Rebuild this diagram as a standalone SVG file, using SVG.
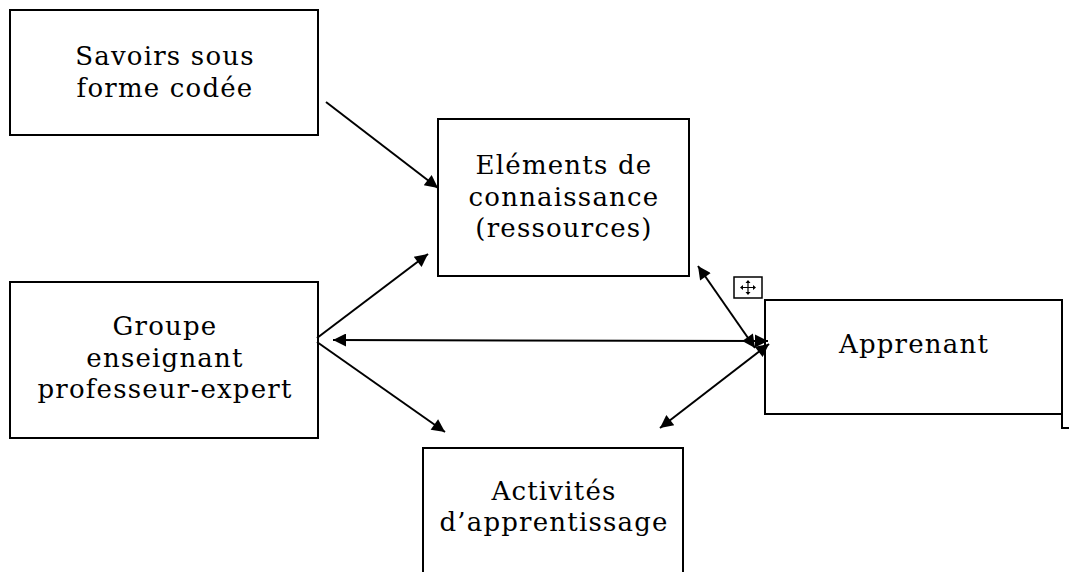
<svg xmlns="http://www.w3.org/2000/svg" width="1069" height="572" viewBox="0 0 1069 572">
<style>
.box{fill:#fff;stroke:#000;stroke-width:2}
.t{font-family:"DejaVu Serif","Liberation Serif",serif;font-size:26px;letter-spacing:1.2px;fill:#000;text-anchor:middle}
.c{stroke:#000;stroke-width:2;fill:none}
</style>
<defs>
<marker id="ah" viewBox="0 0 10 10" refX="10" refY="5" markerWidth="8.5" markerHeight="6.5" markerUnits="strokeWidth" orient="auto-start-reverse">
<path d="M0,0 L10,5 L0,10 z" fill="#000"/>
</marker>
</defs>
<rect width="1069" height="572" fill="#fff"/>
<g id="savoirs">
<rect class="box" x="10" y="10" width="308" height="125"/>
<text class="t" x="165" y="65">Savoirs sous</text>
<text class="t" x="165" y="97">forme codée</text>
</g>
<g id="elements">
<rect class="box" x="438" y="119" width="251" height="157"/>
<text class="t" x="564" y="174">Eléments de</text>
<text class="t" x="564" y="206">connaissance</text>
<text class="t" x="564" y="237">(ressources)</text>
</g>
<g id="groupe">
<rect class="box" x="10" y="282" width="308" height="156"/>
<text class="t" x="165" y="335">Groupe</text>
<text class="t" x="165" y="367">enseignant</text>
<text class="t" x="165" y="398">professeur-expert</text>
</g>
<g id="apprenant">
<rect class="box" x="765" y="300" width="297" height="114"/>
<text class="t" x="914" y="353">Apprenant</text>
<path class="c" d="M1062,414 V428 H1069"/>
</g>
<g id="activites">
<rect class="box" x="423" y="448" width="260" height="130"/>
<text class="t" x="554" y="500">Activités</text>
<text class="t" x="554" y="531">d’apprentissage</text>
</g>
<g id="move-icon">
<rect x="734" y="277" width="28" height="21" fill="#fff" stroke="#000" stroke-width="1.5"/>
<path d="M741,287.5 H755 M748,281 V294" stroke="#000" stroke-width="1.2"/>
<path d="M740,287.5 l3,-2.5 v5 z M756,287.5 l-3,-2.5 v5 z M748,280 l-2.5,3 h5 z M748,295 l-2.5,-3 h5 z" fill="#000"/>
</g>
<g id="connectors">
<line class="c" x1="326" y1="102" x2="438" y2="188" marker-end="url(#ah)"/>
<line class="c" x1="317" y1="338" x2="428" y2="254" marker-end="url(#ah)"/>
<line class="c" x1="317" y1="342" x2="445" y2="432" marker-end="url(#ah)"/>
<line class="c" x1="333" y1="340" x2="768" y2="341" marker-start="url(#ah)" marker-end="url(#ah)"/>
<line class="c" x1="698" y1="266" x2="755" y2="348" marker-start="url(#ah)" marker-end="url(#ah)"/>
<line class="c" x1="660" y1="428" x2="769" y2="344" marker-start="url(#ah)" marker-end="url(#ah)"/>
</g>
</svg>
